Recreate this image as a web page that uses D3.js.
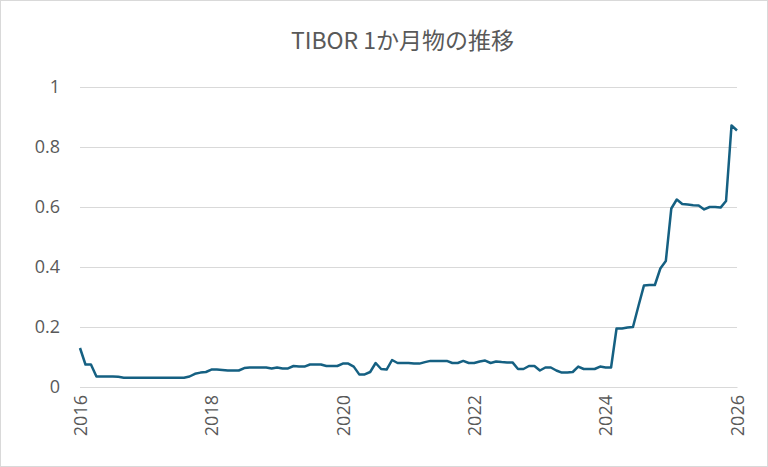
<!DOCTYPE html>
<html><head><meta charset="utf-8">
<script src="https://cdn.jsdelivr.net/npm/d3@7"></script>
<style>body{margin:0;background:#fff}</style>
</head><body>
<div id="chart"></div>
<script>
const startYear = 2016;
// monthly TIBOR 1M values, Jan 2016 .. Jan 2026
const values = [
  0.13, 0.075, 0.075, 0.035, 0.035, 0.035, 0.035, 0.034, 0.031, 0.031, 0.031, 0.031,
  0.031, 0.031, 0.031, 0.031, 0.031, 0.031, 0.031, 0.031, 0.035, 0.044, 0.048, 0.05,
  0.058, 0.058, 0.057, 0.055, 0.055, 0.055, 0.063, 0.065, 0.065, 0.065, 0.065, 0.062,
  0.065, 0.062, 0.062, 0.07, 0.068, 0.068, 0.075, 0.075, 0.075, 0.07, 0.07, 0.07,
  0.078, 0.078, 0.068, 0.042, 0.042, 0.05, 0.08, 0.06, 0.058, 0.09, 0.08, 0.08,
  0.08, 0.078, 0.078, 0.083, 0.087, 0.087, 0.087, 0.087, 0.08, 0.08, 0.087, 0.08,
  0.08, 0.085, 0.088, 0.08, 0.085, 0.083, 0.082, 0.082, 0.06, 0.06, 0.07, 0.07,
  0.055, 0.065, 0.065, 0.055, 0.048, 0.048, 0.05, 0.068, 0.06, 0.06, 0.06, 0.068,
  0.065, 0.065, 0.195, 0.195, 0.198, 0.2, 0.27, 0.338, 0.34, 0.34, 0.395, 0.42,
  0.595, 0.625, 0.61, 0.608, 0.606, 0.605, 0.592, 0.6, 0.6, 0.598, 0.62, 0.872,
  0.855
];
const yTicks = [0, 0.2, 0.4, 0.6, 0.8, 1];
const xTicks = [2016, 2018, 2020, 2022, 2024, 2026];
const title = "TIBOR 1か月物の推移";

const W = 768, H = 467;
const margin = { top: 87, right: 31, bottom: 80, left: 80 };
const font = "'Open Sans', 'Noto Sans CJK JP', sans-serif";

const svg = d3.select("#chart").append("svg")
  .attr("width", W).attr("height", H)
  .style("font-family", font);

svg.append("rect")
  .attr("x", 0.5).attr("y", 0.5).attr("width", W - 1).attr("height", H - 1)
  .attr("fill", "#fff").attr("stroke", "#d9d9d9");

svg.append("text")
  .attr("x", (margin.left + W - margin.right) / 2 - 6).attr("y", 49)
  .attr("text-anchor", "middle").attr("font-size", "23px").attr("fill", "#595959")
  .style("font-family", "'Noto Sans CJK JP', sans-serif")
  .text(title);

const x = d3.scaleLinear().domain([2016, 2026]).range([margin.left, W - margin.right]);
const y = d3.scaleLinear().domain([0, 1]).range([H - margin.bottom, margin.top]);

svg.append("g")
  .attr("transform", `translate(${margin.left},0)`)
  .call(d3.axisLeft(y).tickValues(yTicks).tickFormat(d3.format("~g"))
    .tickSize(-(W - margin.left - margin.right)).tickPadding(20))
  .call(g => g.select(".domain").remove())
  .call(g => g.selectAll("line").attr("stroke", "#d9d9d9"))
  .call(g => g.selectAll("text").attr("fill", "#595959").attr("font-size", "18px").style("font-family", font));

svg.append("g")
  .attr("transform", `translate(0,${H - margin.bottom})`)
  .call(d3.axisBottom(x).tickValues(xTicks).tickFormat(d3.format("d")).tickSize(0))
  .call(g => g.select(".domain").attr("stroke", "#d9d9d9"))
  .call(g => g.selectAll("text")
    .attr("fill", "#595959").attr("font-size", "18px").style("font-family", font)
    .attr("transform", "rotate(-90)").attr("text-anchor", "end")
    .attr("x", -8).attr("y", 0).attr("dy", "0.35em"));

const line = d3.line()
  .x((d, i) => x(startYear + i / 12))
  .y(d => y(d));

svg.append("path")
  .datum(values)
  .attr("fill", "none").attr("stroke", "#156082").attr("stroke-width", 2.5)
  .attr("stroke-linejoin", "round")
  .attr("d", line);
</script>
</body></html>
